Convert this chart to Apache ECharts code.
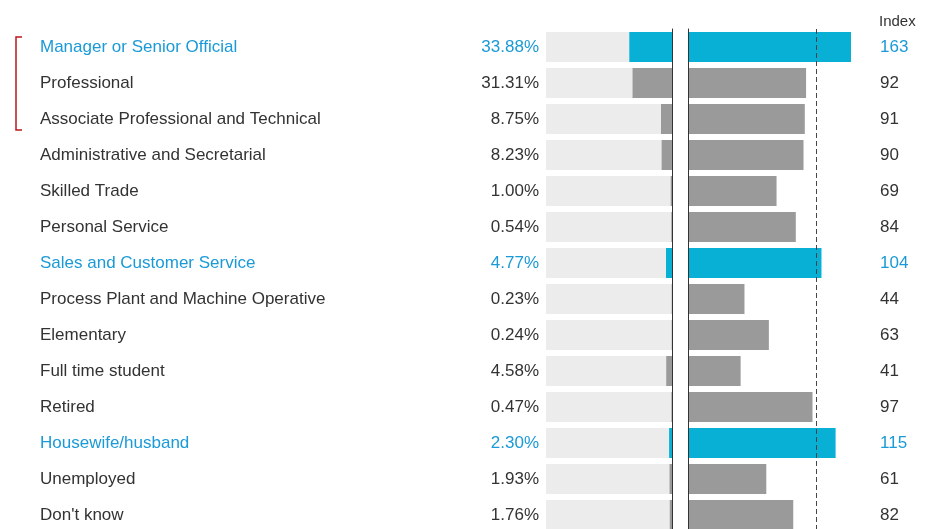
<!DOCTYPE html>
<html>
<head>
<meta charset="utf-8">
<script src="https://cdn.jsdelivr.net/npm/echarts@6/dist/echarts.min.js"></script>
<style>
  html, body { margin: 0; padding: 0; background: #fff; }
  #chart { width: 928px; height: 529px; }
</style>
</head>
<body>
<div id="chart"></div>
<script>
// rows, top to bottom
const categories = [
  'Manager or Senior Official',
  'Professional',
  'Associate Professional and Technical',
  'Administrative and Secretarial',
  'Skilled Trade',
  'Personal Service',
  'Sales and Customer Service',
  'Process Plant and Machine Operative',
  'Elementary',
  'Full time student',
  'Retired',
  'Housewife/husband',
  'Unemployed',
  "Don't know"
]
const shareValues = [33.88, 31.31, 8.75, 8.23, 1.00, 0.54, 4.77, 0.23, 0.24, 4.58, 0.47, 2.30, 1.93, 1.76]
const indexValues = [163, 92, 91, 90, 69, 84, 104, 44, 63, 41, 97, 115, 61, 82]
const highlightRows = [0, 6, 11]

const BLUE = '#08b0d5'
const BLUE_TEXT = '#1a9ad6'
const GREY = '#9a9a9a'
const TEXT = '#333333'
const FONT = '"Liberation Sans", Arial, sans-serif'

const isHi = (i) => highlightRows.indexOf(i) > -1
const textColor = (i) => (isHi(i) ? BLUE_TEXT : TEXT)
const barColor = (i) => (isHi(i) ? BLUE : GREY)

const chart = echarts.init(document.getElementById('chart'))
chart.setOption({
  animation: false,
  textStyle: { fontFamily: FONT },
  title: {
    text: 'Index',
    left: 874,
    top: 9,
    textStyle: { fontSize: 15, fontWeight: 'normal', color: TEXT, fontFamily: FONT }
  },
  // 14 rows of 36px, the last one runs a little past the bottom edge
  grid: [
    { left: 546, width: 126, top: 29, height: 504, outerBoundsMode: 'none' },
    { left: 688, width: 163, top: 29, height: 504, outerBoundsMode: 'none' }
  ],
  xAxis: [
    { gridIndex: 0, type: 'value', min: 0, max: 100, inverse: true, show: false },
    { gridIndex: 1, type: 'value', min: 0, max: 127, show: false }
  ],
  yAxis: [
    {
      // category names
      gridIndex: 0,
      type: 'category',
      data: categories,
      inverse: true,
      position: 'left',
      axisLine: { show: false },
      axisTick: { show: false },
      axisLabel: {
        align: 'left',
        margin: 506,
        fontSize: 17,
        fontFamily: FONT,
        color: (v, i) => textColor(i)
      }
    },
    {
      // solid line at the left panel's zero
      gridIndex: 0,
      type: 'category',
      data: categories,
      inverse: true,
      position: 'right',
      z: 5,
      axisLine: { show: true, lineStyle: { color: '#333', width: 1 } },
      axisTick: { show: false },
      axisLabel: { show: false }
    },
    {
      gridIndex: 1,
      type: 'category',
      data: categories,
      inverse: true,
      position: 'left',
      z: 5,
      axisLine: { show: true, lineStyle: { color: '#333', width: 1 } },
      axisTick: { show: false },
      axisLabel: { show: false }
    },
    {
      // index values on the right
      gridIndex: 1,
      type: 'category',
      data: categories,
      inverse: true,
      position: 'right',
      axisLine: { show: false },
      axisTick: { show: false },
      axisLabel: {
        align: 'left',
        margin: 29,
        fontSize: 17,
        fontFamily: FONT,
        formatter: (v, i) => String(indexValues[i]),
        color: (v, i) => textColor(i)
      }
    }
  ],
  series: [
    {
      // light background track + percent label
      type: 'bar',
      xAxisIndex: 0,
      yAxisIndex: 0,
      barWidth: 30,
      silent: true,
      data: categories.map((c, i) => ({
        value: 100,
        label: { color: textColor(i) }
      })),
      itemStyle: { color: '#ececec' },
      label: {
        show: true,
        position: 'left',
        distance: 7,
        fontSize: 17,
        fontFamily: FONT,
        formatter: (p) => shareValues[p.dataIndex].toFixed(2) + '%'
      }
    },
    {
      type: 'bar',
      xAxisIndex: 0,
      yAxisIndex: 0,
      barWidth: 30,
      barGap: '-100%',
      data: shareValues,
      itemStyle: { color: (p) => barColor(p.dataIndex) }
    },
    {
      type: 'bar',
      xAxisIndex: 1,
      yAxisIndex: 2,
      barWidth: 30,
      clip: true,
      data: indexValues,
      itemStyle: { color: (p) => barColor(p.dataIndex) },
      markLine: {
        silent: true,
        symbol: 'none',
        label: { show: false },
        lineStyle: { color: '#444', width: 1, type: [5, 3] },
        data: [{ xAxis: 100 }]
      }
    }
  ],
  graphic: [
    {
      // red bracket grouping the top three rows
      type: 'polyline',
      shape: { points: [[22, 37], [16, 37], [16, 130], [22, 130]] },
      style: { stroke: '#c0141c', lineWidth: 1.5, fill: null }
    }
  ]
})
</script>
</body>
</html>
